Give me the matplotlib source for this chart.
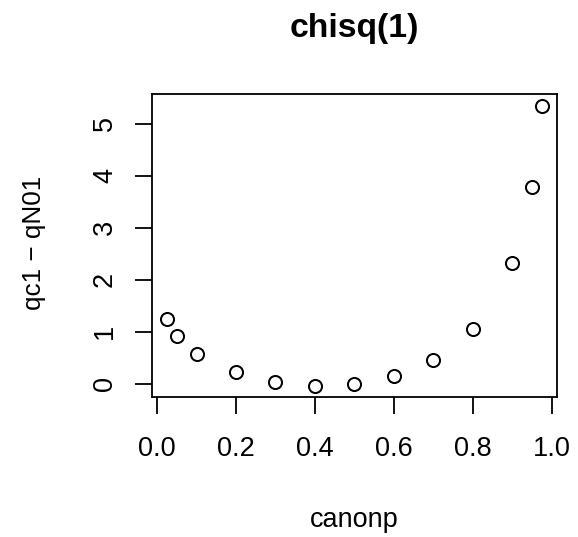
import matplotlib
matplotlib.use("Agg")
import matplotlib.pyplot as plt

plt.rcParams["font.family"] = ["Liberation Sans", "DejaVu Sans"]

# probabilities and the quantile differences at each
canonp = [0.025, 0.05, 0.1, 0.2, 0.3, 0.4, 0.5, 0.6, 0.7, 0.8, 0.9, 0.95, 0.975]
qdiff = [1.242, 0.928, 0.583, 0.218, 0.032, -0.032, 0.0, 0.154, 0.467, 1.056,
         2.324, 3.777, 5.352]

xticks = [0.0, 0.2, 0.4, 0.6, 0.8, 1.0]
xticklabels = ["0.0", "0.2", "0.4", "0.6", "0.8", "1.0"]
yticks = [0, 1, 2, 3, 4, 5]
yticklabels = ["0", "1", "2", "3", "4", "5"]

W, H = 578, 537
fig = plt.figure(figsize=(W / 100, H / 100), dpi=100)

left, right, top, bottom = 152, 556.7, 94.3, 396.7
ax = fig.add_axes([left / W, 1 - bottom / H, (right - left) / W, (bottom - top) / H])

ax.plot(canonp, qdiff, linestyle="none", marker="o", markersize=9.4,
        markerfacecolor="none", markeredgecolor="black", markeredgewidth=1.45)

# R-style 4% padding around the data range
xmin, xmax = min(canonp), max(canonp)
ymin, ymax = min(qdiff), max(qdiff)
dx = (xmax - xmin) * 0.04
dy = (ymax - ymin) * 0.04
ax.set_xlim(xmin - dx, xmax + dx)
ax.set_ylim(ymin - dy, ymax + dy)

ax.set_xticks(xticks)
ax.set_xticklabels(xticklabels)
ax.set_yticks(yticks)
ax.set_yticklabels(yticklabels, rotation=90, va="center")

for s in ax.spines.values():
    s.set_linewidth(1.3)

fs = 19.5
ax.tick_params(axis="both", direction="out", length=12.5, width=1.3,
               labelsize=fs, colors="black")
ax.tick_params(axis="x", pad=16)
ax.tick_params(axis="y", pad=12)

fig.text(354.3 / W, 1 - 36.7 / H, "chisq(1)", ha="center", va="baseline",
         fontsize=24.3, fontweight="bold")
fig.text(354.3 / W, 1 - 527 / H, "canonp", ha="center", va="baseline",
         fontsize=fs)
fig.text(41 / W, 1 - 243 / H, "qc1 \u2212 qN01", ha="center", va="baseline",
         rotation=90, rotation_mode="anchor", fontsize=18.8)

fig.savefig("out.png", dpi=100)
